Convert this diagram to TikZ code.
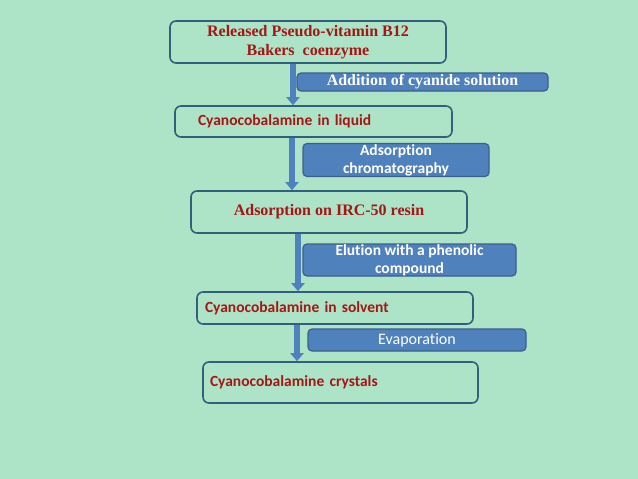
\documentclass[tikz,border=0pt]{standalone}
\usepackage{fontspec}
\setmainfont{Liberation Serif}
\newfontfamily\calfont[Ligatures=NoCommon]{Carlito}
\usetikzlibrary{arrows.meta}
\definecolor{mintbg}{RGB}{173,227,198}
\definecolor{boxline}{RGB}{50,95,122}
\definecolor{stepblue}{RGB}{79,129,189}
\definecolor{stepline}{RGB}{58,95,140}
\definecolor{darkred}{RGB}{165,22,22}

\tikzset{
  stage/.style={draw=boxline,line width=1.6pt,rounded corners=6pt,fill=mintbg,
    text=darkred,font=\bfseries\fontsize{16}{19}\selectfont,align=center},
  stagesans/.style={stage,font=\calfont\bfseries\fontsize{15.5}{18}\selectfont},
  action/.style={draw=stepline,line width=1.2pt,rounded corners=4pt,fill=stepblue,
    text=white,align=center,inner sep=0pt},
  flow/.style={draw=stepline,line width=6pt,stepblue,
    -{Triangle[width=13pt,length=8pt]}}
}

\begin{document}
\begin{tikzpicture}[x=1pt,y=-1pt]
        \useasboundingbox[fill=mintbg] (0,0) rectangle (638,479);
        % released
        \node[stage,minimum width=276pt,minimum height=42pt] (released) at (308,42)
          {Released Pseudo-vitamin B12\\Bakers\ \ coenzyme};
        % liquid
        \node[stagesans,minimum height=31pt,text width=231pt,inner xsep=23pt,align=left]
          (liquid) at (313.5,121.5) {Cyanocobalamine in liquid};
        % resin
        \node[stage,minimum width=276pt,minimum height=42pt] (resin) at (329,212)
          {Adsorption on IRC-50 resin};
        % solvent
        \node[stagesans,minimum height=32pt,text width=260pt,inner xsep=8pt,align=left]
          (solvent) at (335,308) {Cyanocobalamine in solvent};
        % crystals
        \node[stagesans,minimum height=41pt,text width=261pt,inner xsep=7pt,align=left]
          (crystals) at (340.5,382.5) {Cyanocobalamine crystals};
        % steps
        \node[action,minimum width=251pt,minimum height=18pt,
          font=\bfseries\fontsize{15.9}{18}\selectfont] (cyanide) at (422.5,82)
          {Addition of cyanide solution};
        \node[action,minimum width=186pt,minimum height=33pt,
          font=\calfont\bfseries\fontsize{15.5}{18}\selectfont] (chroma) at (396,160)
          {Adsorption\\chromatography};
        \node[action,minimum width=213pt,minimum height=32pt,
          font=\calfont\bfseries\fontsize{15.5}{18}\selectfont] (elution) at (409.5,260)
          {Elution with a phenolic\\compound};
        \node[action,minimum width=218pt,minimum height=22pt,
          font=\calfont\fontsize{16}{18}\selectfont] (evapor) at (417,340)
          {Evaporation};
        % arrows
        \coordinate (ax1) at (293,0);
        \coordinate (ax2) at (292,0);
        \coordinate (ax3) at (298,0);
        \coordinate (ax4) at (297,0);
        \draw[flow] (ax1 |- released.south) -- (ax1 |- liquid.north);
        \draw[flow] (ax2 |- liquid.south) -- (ax2 |- resin.north);
        \draw[flow] (ax3 |- resin.south) -- (ax3 |- solvent.north);
        \draw[flow] (ax4 |- solvent.south) -- (ax4 |- crystals.north);
    \end{tikzpicture}
\end{document}
